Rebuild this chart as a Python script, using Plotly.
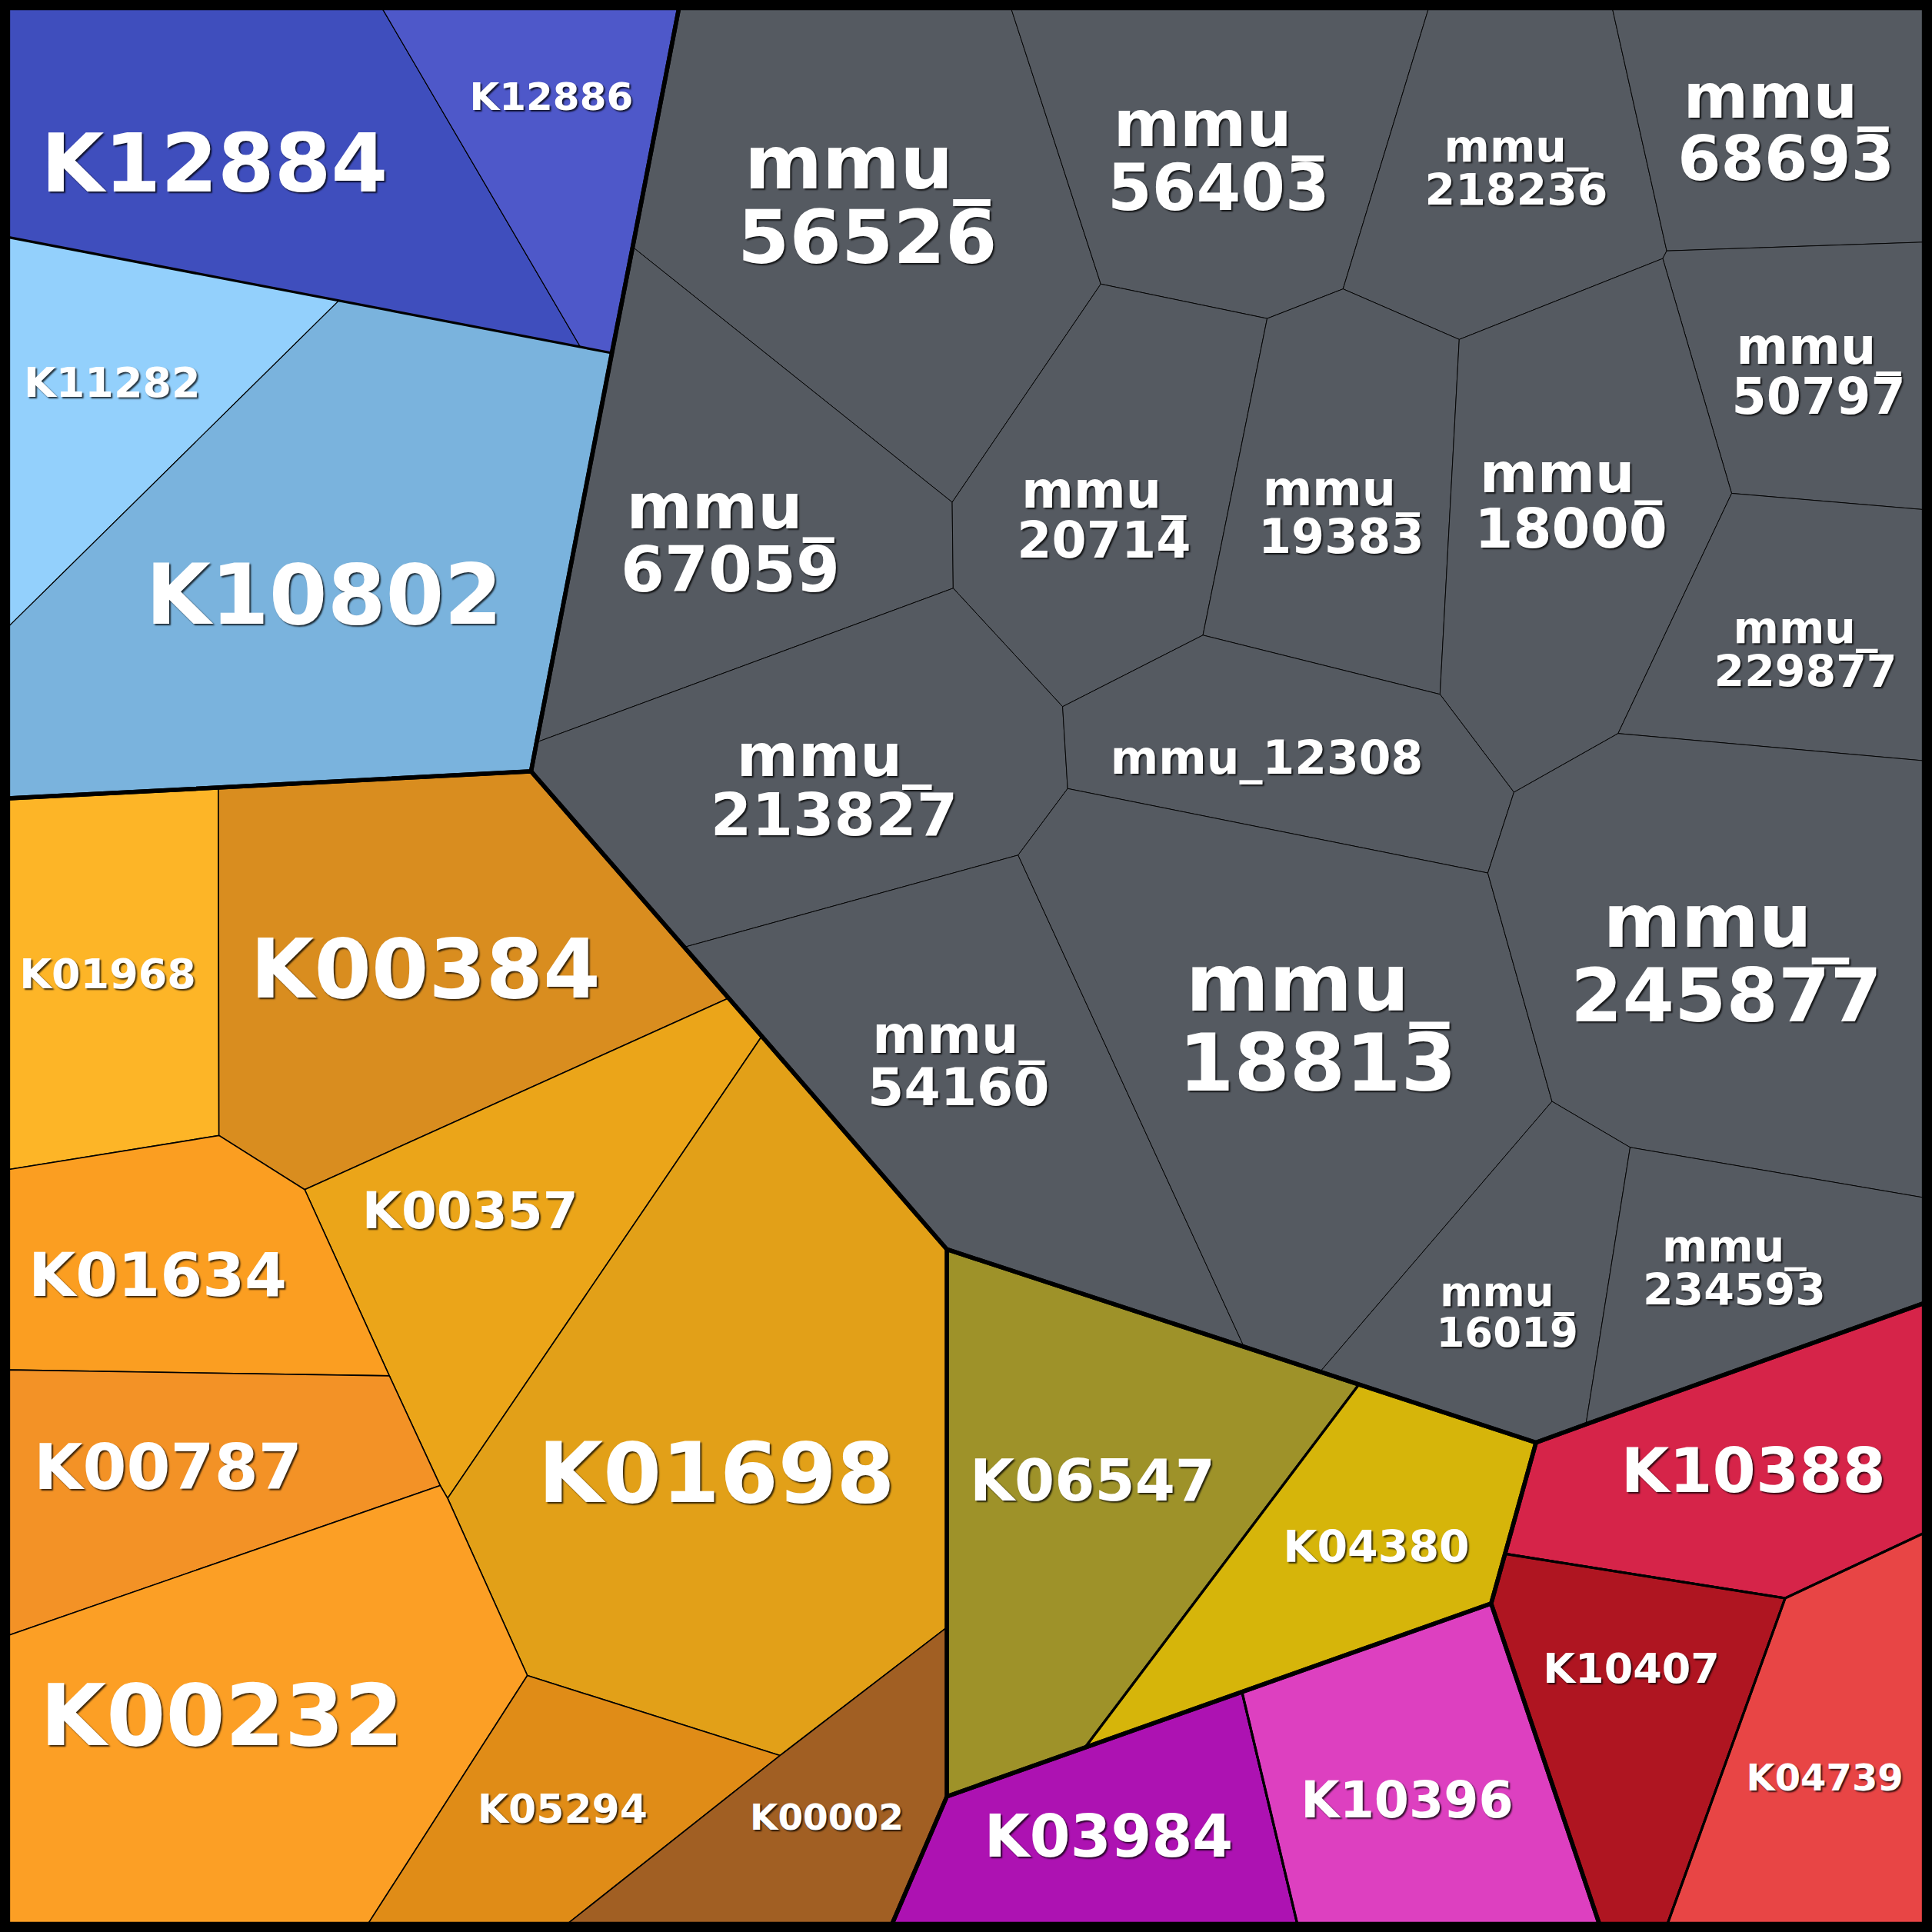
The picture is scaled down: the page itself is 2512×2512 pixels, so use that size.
import plotly.graph_objects as go

# shared corner points of the treemap cells (chart units 0-1568, y grows downward)
vx = [6.5, 310, 551, 820.5, 1159.5, 1308.5, 1561.5, 6.5, 275, 471,
      496.5, 6.5, 431, 6.5, 513.5, 893.4, 772.8, 1028.4, 1090, 1184.3,
      1349.5, 1352.7, 1561.5, 773.6, 435.5, 976.3, 862.4, 866.5, 1168.7, 1405.4,
      1561.5, 1313.2, 1228.7, 1561.5, 826.3, 555.4, 1207.5, 1259.6, 1323, 1561.5,
      1561.5, 1246.6, 1287.1, 1071.4, 1009.6, 768.5, 1102.9, 177.2, 177.7, 6.5,
      247.3, 591.3, 618.3, 316, 6.5, 357.3, 363.3, 6.5, 428, 298.6,
      6.5, 633, 768.5, 768.5, 460.3, 724, 880.5, 1008, 1210.2, 1052.9,
      1298, 1221.5, 1448.8, 1561.5, 1353.3, 1561.5]
vy = [6.5, 6.5, 6.5, 6.5, 6.5, 6.5, 6.5, 192.5, 244, 281.5,
      286.5, 509, 626, 648, 200.5, 230.5, 407.6, 258.5, 234.5, 275.5,
      209.8, 203.6, 196.5, 477.4, 602.4, 515.5, 573.5, 640, 563.5, 400.4,
      413.6, 595.3, 643, 617.4, 694, 768.7, 708.5, 893.9, 931.2, 972,
      1057.6, 1170.8, 1156, 1113.3, 1093, 1014, 1123.6, 639.2, 921.6, 949.3,
      965.5, 810, 841, 1116.6, 1111.8, 1205.7, 1216, 1327.3, 1359.8, 1561.5,
      1561.5, 1424.8, 1320.7, 1458, 1561.5, 1561.5, 1418.4, 1373.2, 1301.4, 1561.5,
      1561.5, 1261.1, 1297.1, 1244.2, 1561.5, 1561.5]

cell_labels = [
    "K12884", "K12886", "K11282", "K10802",
    "mmu_56526", "mmu_56403", "mmu_218236", "mmu_68693", "mmu_50797",
    "mmu_67059", "mmu_20714", "mmu_19383", "mmu_18000", "mmu_229877",
    "mmu_213827", "mmu_12308", "mmu_54160", "mmu_18813", "mmu_245877",
    "mmu_16019", "mmu_234593",
    "K01968", "K00384", "K00357", "K01698", "K01634", "K00787", "K00232",
    "K05294", "K00002",
    "K06547", "K04380",
    "K03984", "K10396",
    "K10388", "K10407", "K04739",
]
cell_groups = (["blue"] * 4 + ["gray"] * 17 + ["orange"] * 9
               + ["olive"] * 2 + ["purple"] * 2 + ["red"] * 3)
cell_vertices = [
    [0, 1, 9, 8, 7], [1, 2, 10, 9], [7, 8, 11], [8, 9, 10, 12, 13, 11],
    [2, 3, 15, 16, 14], [3, 4, 18, 17, 15], [4, 5, 21, 20, 19, 18], [5, 6, 22, 21],
    [21, 22, 30, 29, 20],
    [14, 16, 23, 24, 10], [15, 17, 25, 26, 23, 16], [17, 18, 19, 28, 25],
    [19, 20, 29, 31, 32, 28], [29, 30, 33, 31],
    [24, 23, 26, 27, 34, 35, 12], [26, 25, 28, 32, 36, 27], [35, 34, 44, 45],
    [34, 27, 36, 37, 43, 44], [36, 32, 31, 33, 39, 38, 37],
    [37, 38, 42, 41, 46, 43], [38, 39, 40, 42],
    [13, 47, 48, 49], [47, 12, 51, 50, 48], [50, 51, 52, 56, 55, 53],
    [52, 45, 62, 61, 58, 56], [49, 48, 50, 53, 54], [54, 53, 55, 57],
    [57, 55, 56, 58, 59, 60], [58, 61, 64, 59], [61, 62, 63, 65, 64],
    [45, 44, 43, 46, 66, 63], [46, 41, 71, 68, 67, 66],
    [63, 66, 67, 69, 65], [67, 68, 70, 69],
    [41, 42, 40, 73, 72, 71], [71, 72, 74, 70, 68], [72, 73, 75, 74],
]

group_names = ["blue", "gray", "orange", "olive", "purple", "red"]
group_vertices = [
    [0, 1, 2, 14, 10, 24, 12, 13, 11, 7],
    [2, 3, 4, 5, 6, 22, 30, 33, 39, 40, 42, 41, 46, 43, 44, 45, 52, 51, 35, 12, 24, 10, 14],
    [13, 12, 35, 51, 52, 45, 62, 63, 65, 64, 59, 60, 57, 54, 49],
    [45, 44, 43, 46, 41, 71, 68, 67, 66, 63, 62],
    [63, 66, 67, 68, 70, 69, 65],
    [41, 42, 40, 73, 75, 74, 70, 68, 71],
]
# boundaries between second-level groups
sub_edges = [[7, 8, 9, 10], [46, 66], [71, 72, 74], [72, 73], [67, 69]]

colors = {
    "K12884": "#3f4ebd", "K12886": "#4e58c9", "K11282": "#93d0fc", "K10802": "#7ab3dd",
    "K01968": "#fdb527", "K00384": "#d98d1f", "K00357": "#eba519", "K01698": "#e2a018",
    "K01634": "#fb9e21", "K00787": "#f39226", "K00232": "#fc9f25", "K05294": "#e08c17",
    "K00002": "#a15f23", "K06547": "#9e9229", "K04380": "#d6b50a", "K03984": "#ad12b2",
    "K10396": "#dd40c0", "K10388": "#d62449", "K10407": "#af1521", "K04739": "#e84545",
}
gray = "#555a61"
edge_width = {"blue": 1.2, "gray": 0.9, "orange": 1.6, "olive": 3, "purple": 3, "red": 3}

# label centre (chart units) and font size (px)
label_layout = {
    "K12884": (174, 132, 106), "K12886": (447.5, 78.4, 50), "K11282": (91, 310, 54),
    "K10802": (263, 482.6, 109),
    "mmu_56526": (704, 192.5, 97), "mmu_56403": (989, 152.5, 83),
    "mmu_218236": (1230.6, 154, 57), "mmu_68693": (1449.5, 128.3, 81),
    "mmu_50797": (1476, 321.8, 65), "mmu_67059": (592.7, 462, 82),
    "mmu_20714": (896, 438.3, 65), "mmu_19383": (1088.5, 435, 62),
    "mmu_18000": (1275, 429, 72), "mmu_229877": (1465.3, 545, 57),
    "mmu_213827": (677, 661, 77), "mmu_12308": (1028, 615, 60),
    "mmu_54160": (778, 882, 68), "mmu_18813": (1069.3, 862.5, 104),
    "mmu_245877": (1401, 808, 97), "mmu_16019": (1223.2, 1081.6, 53),
    "mmu_234593": (1407.5, 1047, 57),
    "K01968": (87.4, 790.4, 54), "K00384": (345.3, 786, 107), "K00357": (381.5, 982.4, 66),
    "K01698": (581.5, 1195.1, 109), "K01634": (128, 1034.7, 79), "K00787": (136.3, 1190.6, 82),
    "K00232": (180, 1392.3, 111), "K05294": (456.5, 1467.8, 52), "K00002": (671, 1475, 47),
    "K06547": (886.7, 1201.5, 75), "K04380": (1117, 1255.3, 57),
    "K03984": (899.8, 1490.4, 76), "K10396": (1142, 1461, 65),
    "K10388": (1423, 1193, 81), "K10407": (1324, 1353.8, 54), "K04739": (1481, 1442.8, 48),
}
one_line = {"mmu_12308"}

SIZE = 2512
UNITS = 1568
px2u = UNITS / SIZE

fig = go.Figure()

for lab, grp, idx in zip(cell_labels, cell_groups, cell_vertices):
    xs = [vx[i] for i in idx] + [vx[idx[0]]]
    ys = [vy[i] for i in idx] + [vy[idx[0]]]
    fig.add_trace(go.Scatter(
        x=xs, y=ys, mode="lines", fill="toself",
        fillcolor=colors.get(lab, gray),
        line=dict(color="black", width=edge_width[grp]),
        hoveron="fills", name=lab, text=lab, hoverinfo="text",
    ))

for idx in sub_edges:
    fig.add_trace(go.Scatter(
        x=[vx[i] for i in idx], y=[vy[i] for i in idx], mode="lines",
        line=dict(color="black", width=3.2), hoverinfo="skip",
    ))

for name, idx in zip(group_names, group_vertices):
    fig.add_trace(go.Scatter(
        x=[vx[i] for i in idx] + [vx[idx[0]]],
        y=[vy[i] for i in idx] + [vy[idx[0]]],
        mode="lines", line=dict(color="black", width=5.5), hoverinfo="skip", name=name,
    ))

# text anchors sit a bit above the cap centre, so nudge down by ~0.1 em
tx, ty, tt, ts = [], [], [], []
for lab in cell_labels:
    x, y, s = label_layout[lab]
    y = y + 0.1 * s * px2u
    if lab.startswith("mmu_") and lab not in one_line:
        head, num = lab.split("_")
        tx += [x, x]
        ty += [y - s * px2u, y]
        tt += [head + "_", num]
        ts += [s, s]
    else:
        tx.append(x)
        ty.append(y)
        tt.append(lab)
        ts.append(s)

fig.add_trace(go.Scatter(
    x=tx, y=ty, text=tt, mode="text", textposition="middle center",
    textfont=dict(family="DejaVu Sans", size=ts, color="white", weight="bold",
                  shadow="2px 2px 2px rgba(0,0,0,0.75)"),
    hoverinfo="skip",
))

fig.update_layout(
    width=SIZE, height=SIZE,
    margin=dict(l=0, r=0, t=0, b=0),
    paper_bgcolor="black", plot_bgcolor="black",
    showlegend=False,
    xaxis=dict(range=[0, UNITS], visible=False, fixedrange=True),
    yaxis=dict(range=[UNITS, 0], visible=False, fixedrange=True),
)

fig.write_html("out.html", config={"displayModeBar": False},
               post_script="document.body.style.margin = '0px';")
